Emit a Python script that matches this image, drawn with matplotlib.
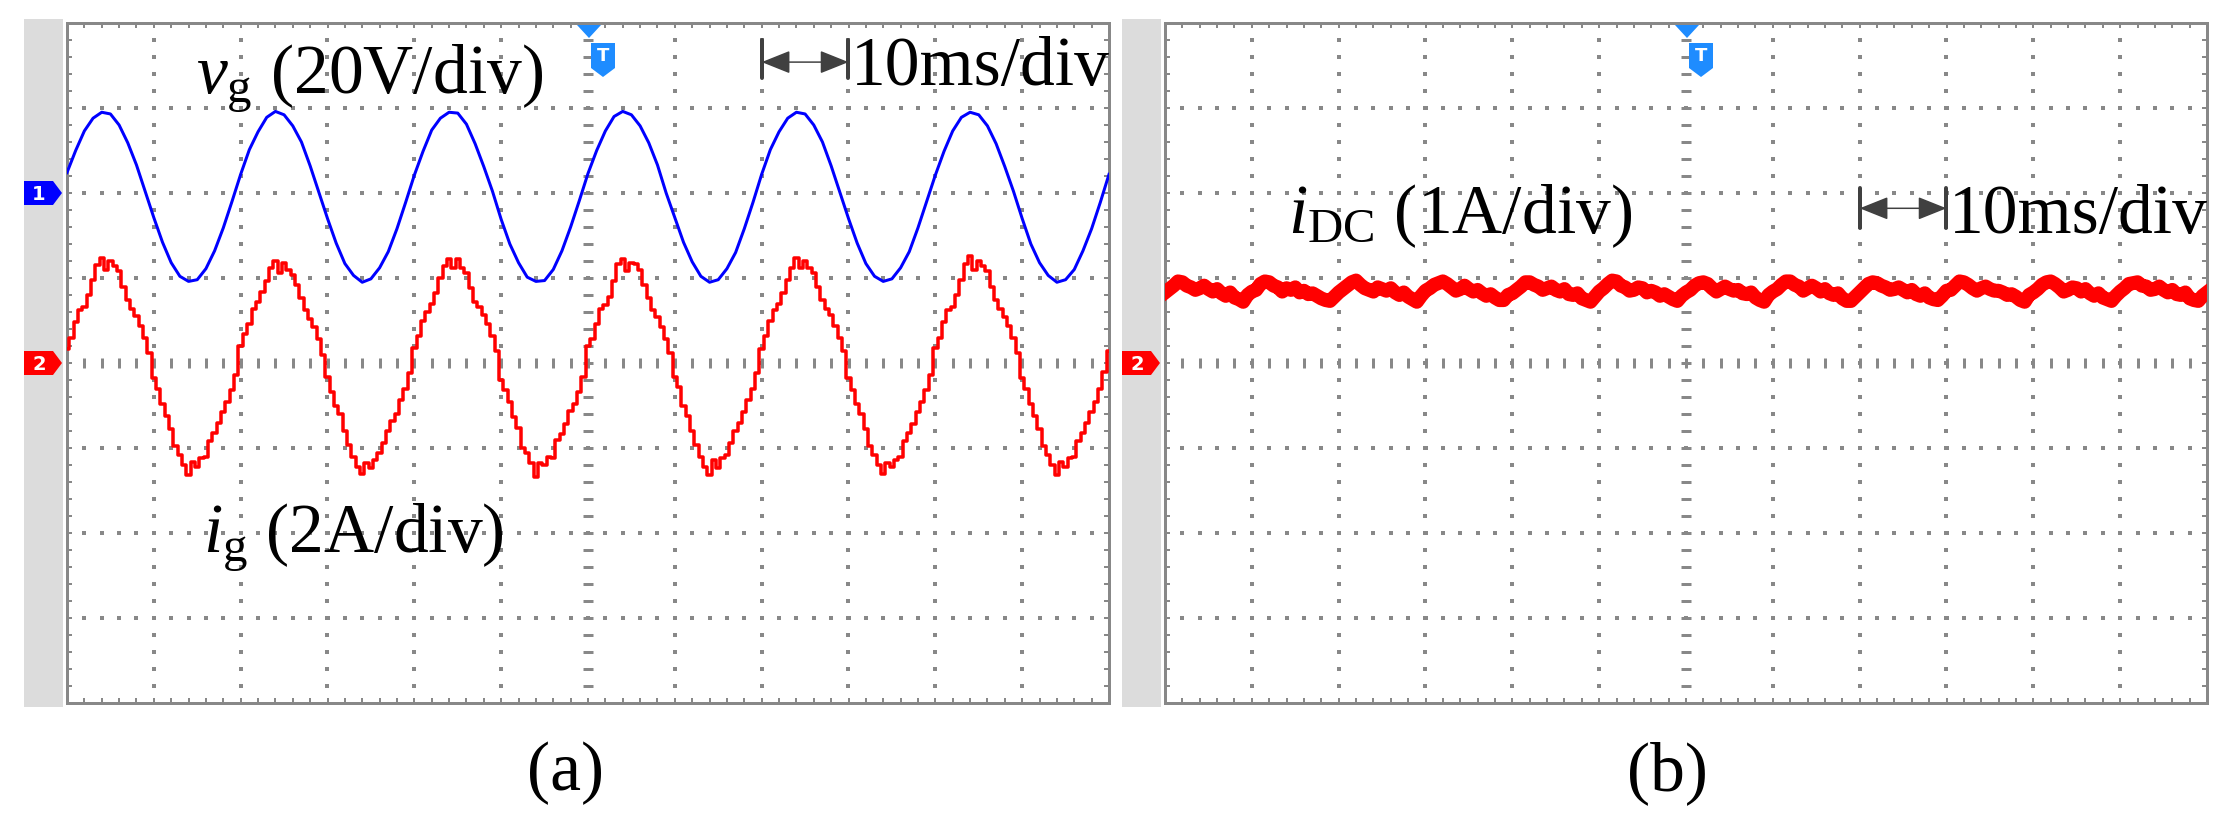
import numpy as np
import matplotlib
matplotlib.use('Agg')
import matplotlib.pyplot as plt
from matplotlib.patches import Polygon, Rectangle, FancyArrowPatch

# Times-like fonts for the annotations
matplotlib.rcParams['font.family'] = 'Liberation Serif'
matplotlib.rcParams['mathtext.fontset'] = 'custom'
matplotlib.rcParams['mathtext.rm'] = 'Liberation Serif'
matplotlib.rcParams['mathtext.it'] = 'Liberation Serif:italic'

W, H, DPI = 2237, 833, 100
PX = 72.0 / DPI          # points per pixel
GRID = '#888888'
TRIG = '#1E8CFF'

# ---- data (values in screen divisions, time in ms, screen = 12 div x 10 ms) ----
t_vg = np.arange(-60, 61, 1.0)
vg_div = [
    2.24, 2.50, 2.73, 2.88, 2.95, 2.93, 2.80, 2.59, 2.33, 2.02, 1.71, 1.42, 1.18, 1.02, 0.96, 0.98, 1.11, 1.32, 1.59, 1.90,
    2.22, 2.51, 2.72, 2.89, 2.96, 2.92, 2.79, 2.60, 2.32, 2.01, 1.70, 1.41, 1.17, 1.03, 0.95, 0.99, 1.12, 1.31, 1.58, 1.89,
    2.21, 2.49, 2.74, 2.88, 2.95, 2.94, 2.81, 2.58, 2.31, 2.02, 1.69, 1.40, 1.18, 1.01, 0.96, 0.97, 1.10, 1.32, 1.60, 1.91,
    2.23, 2.50, 2.73, 2.90, 2.96, 2.92, 2.79, 2.59, 2.33, 2.00, 1.71, 1.42, 1.19, 1.02, 0.95, 0.98, 1.11, 1.30, 1.58, 1.89,
    2.22, 2.51, 2.72, 2.88, 2.95, 2.93, 2.80, 2.60, 2.32, 2.01, 1.70, 1.41, 1.17, 1.02, 0.96, 0.99, 1.12, 1.31, 1.59, 1.90,
    2.21, 2.49, 2.73, 2.89, 2.95, 2.92, 2.79, 2.58, 2.31, 2.02, 1.70, 1.40, 1.18, 1.03, 0.95, 0.98, 1.10, 1.32, 1.58, 1.89,
    2.22,
]

t_ig = np.arange(-60, 60.5, 0.5)
ig_div = [
    0.16, 0.30, 0.48, 0.62, 0.66, 0.80, 0.98, 1.15, 1.24, 1.10, 1.20, 1.14, 1.08, 0.90, 0.74, 0.64, 0.55, 0.44, 0.30, 0.12,
    -0.18, -0.30, -0.48, -0.62, -0.78, -0.98, -1.08, -1.20, -1.32, -1.16, -1.22, -1.12, -1.10, -0.92, -0.82, -0.70, -0.58, -0.46, -0.32, -0.14,
    0.20, 0.34, 0.46, 0.64, 0.72, 0.84, 0.96, 1.12, 1.20, 1.06, 1.18, 1.10, 1.04, 0.92, 0.76, 0.62, 0.52, 0.42, 0.28, 0.10,
    -0.16, -0.34, -0.50, -0.60, -0.80, -0.96, -1.10, -1.22, -1.30, -1.18, -1.24, -1.14, -1.06, -0.94, -0.80, -0.68, -0.60, -0.44, -0.30, -0.12,
    0.18, 0.32, 0.50, 0.60, 0.70, 0.82, 1.00, 1.14, 1.22, 1.12, 1.22, 1.12, 1.06, 0.88, 0.72, 0.66, 0.56, 0.46, 0.32, 0.14,
    -0.20, -0.32, -0.46, -0.64, -0.76, -1.00, -1.06, -1.18, -1.34, -1.18, -1.20, -1.10, -1.12, -0.90, -0.84, -0.72, -0.56, -0.48, -0.34, -0.16,
    0.20, 0.28, 0.46, 0.64, 0.68, 0.78, 0.96, 1.16, 1.22, 1.08, 1.18, 1.16, 1.10, 0.92, 0.76, 0.62, 0.54, 0.42, 0.28, 0.12,
    -0.16, -0.28, -0.50, -0.62, -0.80, -0.96, -1.10, -1.22, -1.32, -1.14, -1.24, -1.12, -1.08, -0.94, -0.80, -0.70, -0.58, -0.44, -0.30, -0.12,
    0.16, 0.32, 0.50, 0.62, 0.70, 0.82, 0.98, 1.12, 1.24, 1.12, 1.20, 1.12, 1.06, 0.90, 0.74, 0.64, 0.56, 0.44, 0.30, 0.14,
    -0.18, -0.32, -0.48, -0.60, -0.78, -0.98, -1.08, -1.20, -1.30, -1.18, -1.22, -1.14, -1.10, -0.92, -0.82, -0.72, -0.58, -0.46, -0.32, -0.14,
    0.18, 0.30, 0.48, 0.62, 0.66, 0.80, 0.98, 1.16, 1.26, 1.10, 1.20, 1.14, 1.08, 0.90, 0.74, 0.64, 0.54, 0.44, 0.30, 0.12,
    -0.18, -0.30, -0.48, -0.62, -0.78, -0.98, -1.08, -1.20, -1.32, -1.16, -1.22, -1.12, -1.10, -0.92, -0.82, -0.70, -0.58, -0.46, -0.30, -0.10,
    0.14,
]

t_idc = np.arange(-60, 60.5, 0.5)
idc_div = [
    0.83, 0.87, 0.91, 0.96, 0.95, 0.91, 0.89, 0.86, 0.88, 0.91, 0.87, 0.84, 0.87, 0.82, 0.79, 0.83, 0.77, 0.75,
    0.72, 0.80, 0.84, 0.86, 0.93, 0.96, 0.95, 0.91, 0.89, 0.84, 0.88, 0.86, 0.89, 0.83, 0.85, 0.81, 0.82, 0.79, 0.76, 0.74,
    0.73, 0.78, 0.83, 0.87, 0.91, 0.95, 0.97, 0.92, 0.88, 0.86, 0.84, 0.89, 0.87, 0.85, 0.88, 0.83, 0.80, 0.83, 0.78, 0.75,
    0.72, 0.79, 0.85, 0.88, 0.92, 0.94, 0.96, 0.93, 0.89, 0.85, 0.87, 0.91, 0.87, 0.84, 0.86, 0.82, 0.79, 0.81, 0.77, 0.74,
    0.74, 0.80, 0.82, 0.86, 0.90, 0.95, 0.95, 0.92, 0.90, 0.86, 0.88, 0.90, 0.86, 0.84, 0.87, 0.81, 0.80, 0.82, 0.76, 0.74,
    0.72, 0.78, 0.84, 0.88, 0.93, 0.97, 0.96, 0.91, 0.89, 0.85, 0.86, 0.89, 0.88, 0.83, 0.85, 0.83, 0.79, 0.81, 0.78, 0.75,
    0.73, 0.79, 0.83, 0.86, 0.91, 0.94, 0.95, 0.93, 0.88, 0.84, 0.87, 0.90, 0.87, 0.85, 0.86, 0.82, 0.81, 0.83, 0.77, 0.74,
    0.72, 0.80, 0.84, 0.87, 0.92, 0.96, 0.96, 0.92, 0.90, 0.85, 0.88, 0.91, 0.88, 0.84, 0.87, 0.82, 0.80, 0.82, 0.76, 0.73,
    0.73, 0.78, 0.83, 0.88, 0.93, 0.95, 0.94, 0.91, 0.89, 0.86, 0.87, 0.89, 0.86, 0.83, 0.86, 0.81, 0.79, 0.82, 0.77, 0.75,
    0.74, 0.79, 0.85, 0.86, 0.91, 0.96, 0.95, 0.92, 0.88, 0.85, 0.88, 0.90, 0.87, 0.85, 0.85, 0.83, 0.80, 0.81, 0.78, 0.74,
    0.72, 0.80, 0.83, 0.87, 0.92, 0.95, 0.96, 0.93, 0.89, 0.84, 0.86, 0.89, 0.88, 0.84, 0.87, 0.82, 0.79, 0.82, 0.77, 0.75,
    0.73, 0.79, 0.84, 0.88, 0.93, 0.94, 0.95, 0.91, 0.90, 0.86, 0.87, 0.90, 0.86, 0.83, 0.86, 0.81, 0.80, 0.83, 0.76, 0.74,
    0.73, 0.79, 0.83,
]

# ---- layout (pixels) ----
TOP, BOT = 23, 703
BOX_W = 1042
PANEL_LEFT = [67, 1165]
DIV_Y = (BOT - TOP) / 8.0


def fp(x, y):
    # pixel coords -> figure fraction
    return (x / W, 1 - y / H)


def level_px(level):
    return TOP + (4 - level) * DIV_Y


def scope_screen(fig, left):
    ax = fig.add_axes([left / W, 1 - BOT / H, BOX_W / W, (BOT - TOP) / H])
    ax.set_xlim(-6, 6)
    ax.set_ylim(-4, 4)
    ax.set_xticks(np.arange(-6, 6.01, 0.2))
    ax.set_yticks(np.arange(-4, 4.01, 0.2))
    ax.tick_params(direction='in', top=True, right=True, labelbottom=False,
                   labelleft=False, length=5 * PX, width=2 * PX, color=GRID)
    for s in ax.spines.values():
        s.set_color(GRID)
        s.set_linewidth(3 * PX)

    inner_x = np.arange(-5.8, 5.81, 0.2)
    inner_y = np.arange(-3.8, 3.81, 0.2)
    for gx in range(-5, 6):
        if gx == 0:
            ax.plot(np.zeros(len(inner_y)), inner_y, ls='none', marker='_',
                    ms=10 * PX, mew=3 * PX, color=GRID, zorder=1)
        else:
            ax.plot(np.full(len(inner_y), gx), inner_y, ls='none', marker='s',
                    ms=3.5 * PX, mew=0, color=GRID, zorder=1)
    for gy in range(-3, 4):
        if gy == 0:
            ax.plot(inner_x, np.zeros(len(inner_x)), ls='none', marker='|',
                    ms=10 * PX, mew=3 * PX, color=GRID, zorder=1)
        else:
            ax.plot(inner_x, np.full(len(inner_x), gy), ls='none', marker='s',
                    ms=3.5 * PX, mew=0, color=GRID, zorder=1)

    off = left - PANEL_LEFT[0]
    # gray strip on the left of the screen
    x0, y0 = fp(24 + off, 707)
    fig.patches.append(Rectangle((x0, y0), 39 / W, (707 - 19) / H, transform=fig.transFigure,
                                 facecolor='#DCDCDC', edgecolor='none', zorder=0))
    # trigger marker
    tri = [fp(577 + off, 25), fp(601 + off, 25), fp(589 + off, 38)]
    fig.patches.append(Polygon(tri, closed=True, transform=fig.transFigure,
                               facecolor=TRIG, edgecolor='none', zorder=5))
    badge = [fp(591 + off, 43), fp(615 + off, 43), fp(615 + off, 68),
             fp(603 + off, 77), fp(591 + off, 68)]
    fig.patches.append(Polygon(badge, closed=True, transform=fig.transFigure,
                               facecolor=TRIG, edgecolor='none', zorder=5))
    fig.text(*fp(603 + off, 56), 'T', color='white', fontsize=13, fontweight='bold',
             family='DejaVu Sans', ha='center', va='center', zorder=6)
    return ax, off


def channel_marker(fig, off, level, label, color):
    yc = level_px(level)
    x0 = 24 + off
    pts = [fp(x0, yc - 12), fp(x0 + 29, yc - 12), fp(x0 + 38, yc),
           fp(x0 + 29, yc + 12), fp(x0, yc + 12)]
    fig.patches.append(Polygon(pts, closed=True, transform=fig.transFigure,
                               facecolor=color, edgecolor='none', zorder=5))
    fig.text(*fp(x0 + 15, yc + 1), label, color='white', fontsize=14, fontweight='bold',
             family='DejaVu Sans', ha='center', va='center', zorder=6)


def time_scale(ax, y, y_lo, y_hi):
    ax.add_patch(FancyArrowPatch((2, y), (3, y), arrowstyle='<|-|>,head_length=%.1f,head_width=%.1f'
                                 % (25 * PX, 10 * PX), color='#404040', lw=1.5 * PX,
                                 shrinkA=0, shrinkB=0, zorder=4))
    for bx in (2, 3):
        ax.plot([bx, bx], [y_lo, y_hi], color='#404040', lw=4 * PX,
                solid_capstyle='round', zorder=4)


fig = plt.figure(figsize=(W / DPI, H / DPI), dpi=DPI)

# (a) grid voltage and current
ax_a, off_a = scope_screen(fig, PANEL_LEFT[0])
ax_a.plot(t_vg / 10.0, vg_div, color='#0000FF', lw=3 * PX, zorder=3)
ax_a.plot(t_ig / 10.0, ig_div, color='#FF0000', lw=3.5 * PX, drawstyle='steps-mid', zorder=3)
channel_marker(fig, off_a, 2, '1', '#0000FF')
channel_marker(fig, off_a, 0, '2', '#FF0000')
time_scale(ax_a, 3.54, 3.35, 3.80)

# (b) dc side current
ax_b, off_b = scope_screen(fig, PANEL_LEFT[1])
ax_b.plot(t_idc / 10.0, idc_div, color='#FF0000', lw=14 * PX, zorder=3)
channel_marker(fig, off_b, 0, '2', '#FF0000')
time_scale(ax_b, 1.82, 1.59, 2.06)

FS = 50
fig.text(*fp(196, 93), r'$v_{\mathrm{g}}$ (20V/div)', fontsize=FS, va='baseline', ha='left')
fig.text(*fp(851, 85), '10ms/div', fontsize=FS, va='baseline', ha='left')
fig.text(*fp(203, 552), r'$i_{\mathrm{g}}$ (2A/div)', fontsize=FS, va='baseline', ha='left')
fig.text(*fp(1288, 233), r'$i_{\mathrm{DC}}$ (1A/div)', fontsize=FS, va='baseline', ha='left')
fig.text(*fp(1949, 233), '10ms/div', fontsize=FS, va='baseline', ha='left')
fig.text(*fp(566, 790), '(a)', fontsize=FS, va='baseline', ha='center')
fig.text(*fp(1667, 790), '(b)', fontsize=FS, va='baseline', ha='center')

fig.savefig('out.png', dpi=DPI)
